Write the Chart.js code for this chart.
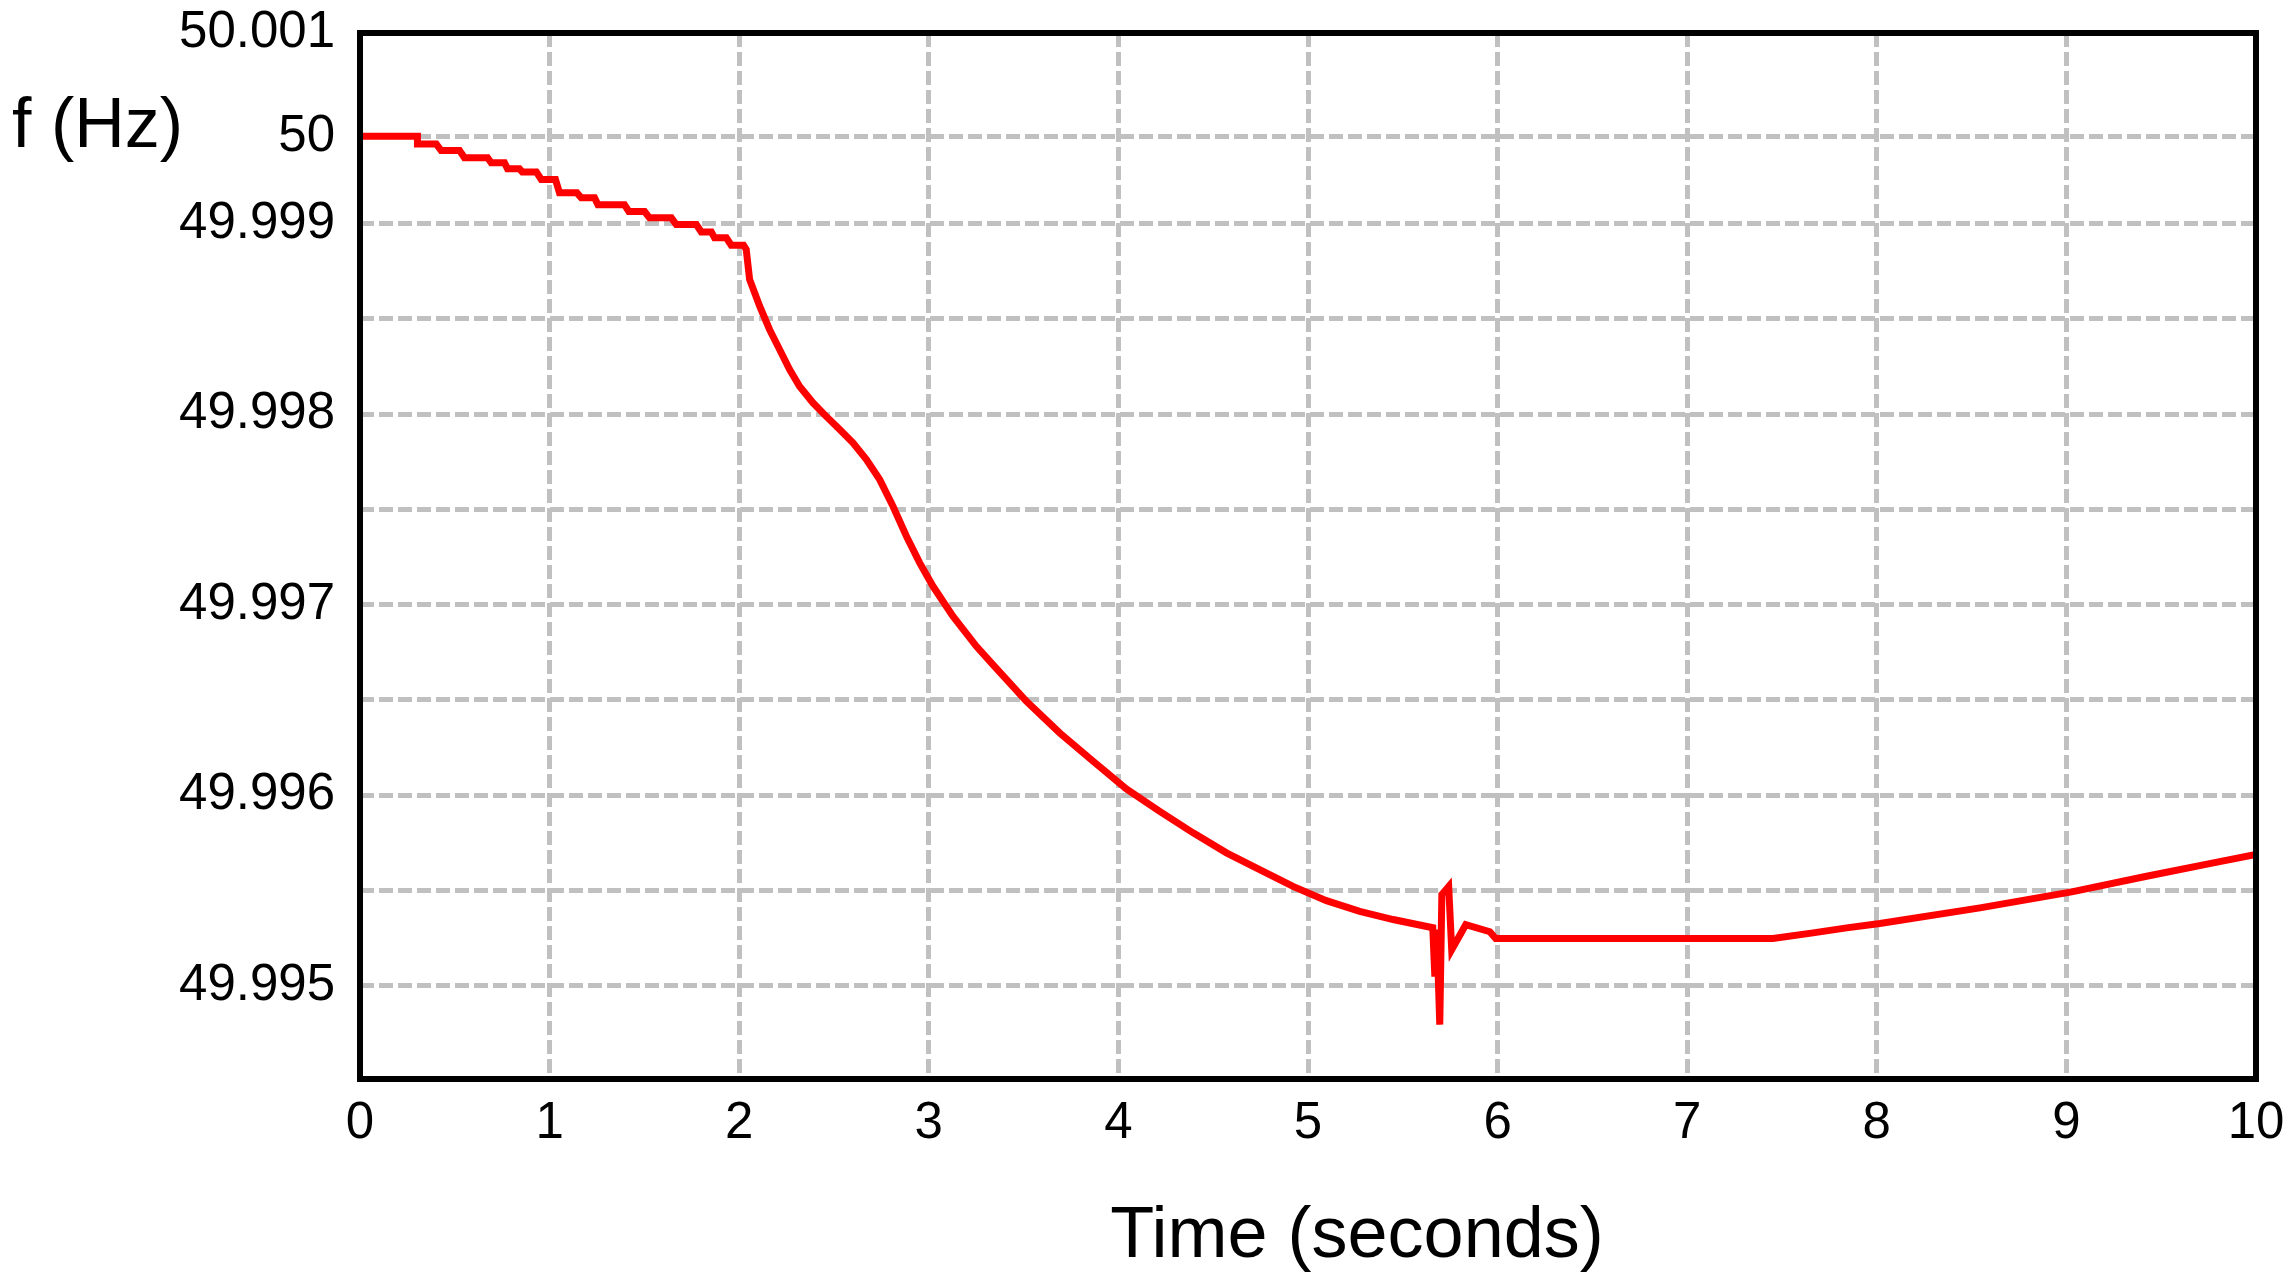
<!DOCTYPE html>
<html lang="en">
<head>
  <meta charset="UTF-8">
  <title>Frequency f (Hz) vs time</title>
  <script src="https://cdn.jsdelivr.net/npm/chart.js"></script>
  <style>
    body {
      margin: 0;
      background-color: #fff;
    }
    canvas {
      display: block;
    }
  </style>
</head>
<body>
  <canvas id="freqChart" width="2295" height="1284"></canvas>

  <script>
    // time in seconds
    const timeSec = [
      0, 0.303, 0.303, 0.402, 0.428, 0.525, 0.551, 0.673, 0.692, 0.762,
      0.778, 0.841, 0.856, 0.930, 0.956, 1.031, 1.052, 1.144, 1.167, 1.237,
      1.255, 1.395, 1.418, 1.501, 1.527, 1.642, 1.668, 1.774, 1.800, 1.853,
      1.870, 1.932, 1.958, 2.023,
      2.037, 2.055, 2.108, 2.160, 2.213, 2.266, 2.318, 2.389, 2.459, 2.530,
      2.600, 2.671, 2.741, 2.811, 2.882, 2.952, 3.022, 3.127, 3.251,
      3.338, 3.515, 3.690, 3.866, 4.042, 4.218, 4.394, 4.570, 4.745, 4.921,
      5.097, 5.273, 5.449, 5.658,
      5.669, 5.679, 5.695, 5.706, 5.742, 5.758, 5.832, 5.959, 5.990,
      7.452, 7.664, 7.841, 8.016, 8.544, 9.028, 9.423, 9.775, 10.0
    ];

    // frequency in Hz at each time above
    const freqHz = [
      49.999458, 49.999458, 49.999418, 49.999418, 49.999383, 49.999383, 49.999345, 49.999345, 49.999319, 49.999319,
      49.999287, 49.999287, 49.999271, 49.999271, 49.999231, 49.999231, 49.999161, 49.999161, 49.999135, 49.999135,
      49.999098, 49.999098, 49.999063, 49.999063, 49.999030, 49.999030, 49.998995, 49.998995, 49.998956, 49.998956,
      49.998925, 49.998925, 49.998886, 49.998886,
      49.998864, 49.998706, 49.998566, 49.998444, 49.998339, 49.998234, 49.998146, 49.998059, 49.997988, 49.997919,
      49.997849, 49.997761, 49.997656, 49.997516, 49.997359, 49.997219, 49.997096, 49.996939, 49.996781,
      49.996685, 49.996492, 49.996327, 49.996178, 49.996033, 49.995915, 49.995802, 49.995697, 49.995609, 49.995521,
      49.995446, 49.995390, 49.995347, 49.995304,
      49.995047, 49.995294, 49.994795, 49.995478, 49.995520, 49.995189, 49.995320, 49.995283, 49.995247,
      49.995247, 49.995277, 49.995303, 49.995326, 49.995408, 49.995492, 49.995574, 49.995644, 49.995688
    ];

    // y gridlines and the text printed beside them
    const yTickValues = [49.995, 49.9955, 49.996, 49.9965, 49.997, 49.9975, 49.998, 49.9985, 49.999, 49.999457, 50.0];
    const yTickLabels = ['49.995', '', '49.996', '', '49.997', '', '49.998', '', '49.999', '50', '50.001'];

    Chart.defaults.font.family = '"Liberation Sans", Arial, sans-serif';
    Chart.defaults.color = '#000';

    // black box round the plot, plus the two axis captions
    const framePlugin = {
      id: 'frame',
      afterDraw(chart) {
        const { ctx, chartArea: a } = chart;
        ctx.save();
        ctx.strokeStyle = '#000';
        ctx.lineWidth = 6;
        ctx.strokeRect(a.left, a.top, a.right - a.left, a.bottom - a.top);
        ctx.fillStyle = '#000';
        ctx.textBaseline = 'alphabetic';
        ctx.font = '70px "Liberation Sans", Arial, sans-serif';
        ctx.textAlign = 'left';
        ctx.fillText('f (Hz)', 12, 147);
        ctx.font = '72px "Liberation Sans", Arial, sans-serif';
        ctx.textAlign = 'center';
        ctx.fillText('Time (seconds)', 1357, 1257);
        ctx.restore();
      }
    };

    const gridStyle = { color: '#c0c0c0', lineWidth: 5, drawTicks: false };

    const ctx = document.getElementById('freqChart').getContext('2d');
    new Chart(ctx, {
      type: 'line',
      data: {
        datasets: [{
          data: timeSec.map((t, i) => ({ x: t, y: freqHz[i] })),
          borderColor: '#ff0000',
          borderWidth: 7,
          pointRadius: 0,
          tension: 0,
          fill: false
        }]
      },
      options: {
        responsive: false,
        animation: false,
        layout: { padding: { top: 33, right: 39, left: 0, bottom: 0 } },
        plugins: {
          legend: { display: false },
          tooltip: { enabled: false }
        },
        scales: {
          x: {
            type: 'linear',
            min: 0,
            max: 10,
            afterFit: s => {
              s.height = 205;
              s.paddingLeft = 0;
              s.paddingRight = 0;
            },
            ticks: { stepSize: 1, padding: 14, maxRotation: 0, font: { size: 51 } },
            grid: gridStyle,
            border: { display: false, dash: [14, 5] }
          },
          y: {
            type: 'linear',
            min: 49.99451,
            max: 50.0,
            afterFit: s => {
              s.width = 360;
              s.paddingTop = 0;
              s.paddingBottom = 0;
            },
            afterBuildTicks: s => { s.ticks = yTickValues.map(v => ({ value: v })); },
            ticks: {
              autoSkip: false,
              padding: 25,
              font: { size: 51 },
              callback: (v, i) => yTickLabels[i]
            },
            grid: gridStyle,
            border: { display: false, dash: [14, 5] }
          }
        }
      },
      plugins: [framePlugin]
    });
  </script>
</body>
</html>
